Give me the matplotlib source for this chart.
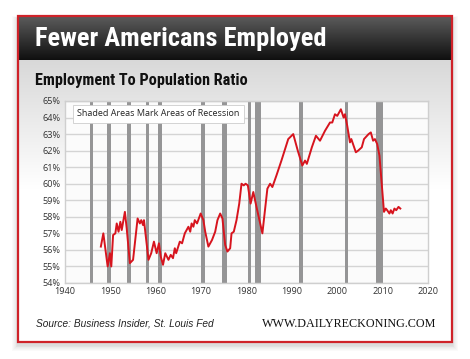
import numpy as np
import matplotlib
matplotlib.use("Agg")
import matplotlib.pyplot as plt
from matplotlib.patches import Rectangle

# employment to population ratio (%)
years = [1947.9, 1948.45, 1949.4, 1949.9, 1950.2, 1950.6, 1951.1, 1951.4, 1951.8,
         1952.2, 1952.5, 1953.2, 1953.6, 1954.3, 1955.0, 1956.0, 1956.5, 1956.8,
         1957.2, 1957.4, 1958.4, 1959.0, 1959.6, 1960.2, 1960.7, 1961.1, 1961.6,
         1962.1, 1962.8, 1963.3, 1963.8, 1964.2, 1964.5, 1965.3, 1965.8, 1966.4,
         1967.2, 1967.6, 1967.9, 1968.3, 1968.6, 1969.1, 1969.9, 1970.5, 1970.9,
         1971.6, 1972.4, 1973.1, 1973.6, 1974.2, 1974.7, 1975.3, 1975.8, 1976.4,
         1976.7, 1977.2, 1977.8, 1978.4, 1978.9, 1979.4, 1979.8, 1980.3, 1980.9,
         1981.5, 1982.2, 1983.5, 1984.6, 1985.2, 1985.7, 1986.6, 1987.7, 1989.2,
         1990.3, 1991.3, 1992.3, 1992.9, 1993.3, 1994.4, 1995.3, 1996.2, 1997.3,
         1998.4, 1998.9, 1999.5, 2000.0, 2000.8, 2001.4, 2001.7, 2002.2, 2002.8,
         2003.1, 2004.1, 2004.6, 2005.4, 2005.9, 2006.9, 2007.4, 2007.9, 2008.3,
         2008.8, 2009.3, 2009.8, 2010.3, 2010.7, 2011.0, 2011.5, 2011.8, 2012.2,
         2012.6, 2013.0, 2013.5, 2013.9]
ratio = [56.2, 57.0, 55.0, 55.8, 55.0, 56.9, 57.0, 57.6, 57.1,
         57.7, 57.2, 58.3, 57.3, 55.2, 55.4, 57.9, 57.6, 57.8,
         57.5, 57.8, 55.4, 55.8, 56.5, 55.8, 56.4, 55.6, 55.1,
         55.8, 55.4, 55.7, 55.5, 56.1, 55.8, 56.5, 56.4, 57.0,
         57.4, 57.1, 57.6, 57.4, 57.8, 57.6, 58.2, 57.8, 57.1,
         56.2, 56.6, 57.1, 57.8, 58.2, 57.9, 56.3, 55.9, 56.1,
         57.0, 57.1, 57.8, 58.8, 60.0, 59.9, 60.0, 59.9, 58.8,
         59.5, 58.6, 57.0, 59.7, 60.0, 59.8, 60.5, 61.4, 62.7,
         63.0, 62.0, 61.1, 61.4, 61.2, 62.2, 62.9, 62.6, 63.2,
         63.7, 63.7, 64.2, 64.1, 64.5, 64.0, 64.2, 63.5, 62.5,
         62.7, 61.9, 62.0, 62.2, 62.7, 63.0, 63.1, 62.6, 62.7,
         62.4, 61.7, 60.0, 58.3, 58.5, 58.4, 58.2, 58.4, 58.2,
         58.5, 58.4, 58.6, 58.5]

# recession bands as drawn in the reference (start, end)
rec_start = [1945.5, 1949.26, 1953.73, 1957.85, 1960.56, 1969.97, 1974.53,
             1980.40, 1981.87, 1991.57, 2001.71, 2008.54]
rec_end = [1946.1, 1950.14, 1954.48, 1958.58, 1961.38, 1970.85, 1975.64,
           1980.93, 1983.19, 1992.38, 2002.30, 2010.15]

x_ticks = list(range(1940, 2021, 10))
y_ticks = list(range(54, 66))

narrow = ["Roboto Condensed", "Archivo Narrow", "PT Sans Narrow",
          "Open Sans Condensed", "DejaVu Sans"]

W, H = 470, 359
fig = plt.figure(figsize=(W / 100, H / 100), dpi=100)

# background layer in pixel coordinates
bg = fig.add_axes([0, 0, 1, 1], zorder=-5)
bg.set_xlim(0, W)
bg.set_ylim(H, 0)
bg.axis("off")

# soft drop shadow round the card
for i in range(7, 0, -1):
    bg.add_patch(Rectangle((18 - i * 0.8, 16 - i * 0.4 + 3), 434 + 1.6 * i, 326 + 1.2 * i,
                           facecolor="black", alpha=0.018, lw=0))

# card body with a light vertical gradient
gy = np.linspace(0, 1, 200).reshape(-1, 1)
body = 0.85 + 0.15 * np.clip(gy * 2.2, 0, 1)
bg.imshow(np.dstack([body, body, body]), extent=(18, 452, 342, 60),
          aspect="auto", interpolation="bilinear", zorder=1)

# dark header band
hd = np.linspace(0.36, 0.06, 100).reshape(-1, 1)
bg.imshow(np.dstack([hd, hd, hd]), extent=(18, 452, 60, 16),
          aspect="auto", interpolation="bilinear", zorder=2)

bg.add_patch(Rectangle((18, 16), 434, 326, facecolor="none",
                       edgecolor="#cf2229", lw=1.6, zorder=3))

bg.text(35, 39, "Fewer Americans Employed", color="white", fontsize=19,
        fontweight="bold", family=narrow, fontstretch="condensed",
        va="center", zorder=4)
bg.text(35, 81, "Employment To Population Ratio", color="#111111", fontsize=11.7,
        fontweight="bold", family=narrow, fontstretch="condensed",
        va="center", zorder=4)
bg.text(36, 324, "Source: Business Insider, St. Louis Fed", color="#222222",
        fontsize=7.3, style="italic", family="Liberation Sans", va="center", zorder=4)
bg.text(436, 324, "WWW.DAILYRECKONING.COM", color="#111111", fontsize=8.7,
        family="Liberation Serif", ha="right", va="center", zorder=4)

# chart
ax = fig.add_axes([65 / W, 1 - 283 / H, 363 / W, 182 / H])
ax.set_facecolor("#fbfbfb")

for s, e in zip(rec_start, rec_end):
    ax.axvspan(s, e, color="#959596", lw=0, zorder=2)

ax.plot(years, ratio, color="#d7141e", lw=1.4, zorder=4)

ax.set_xlim(1940, 2020)
ax.set_ylim(54, 65)
ax.set_xticks(x_ticks)
ax.set_yticks(y_ticks)
ax.set_yticklabels([f"{v}%" for v in y_ticks])
ax.grid(axis="y", color="#d4d4d4", lw=1, zorder=1)
ax.tick_params(length=0, labelsize=6.6, colors="#333333", pad=3)
for lab in ax.get_xticklabels() + ax.get_yticklabels():
    lab.set_family("Open Sans")
for sp in ax.spines.values():
    sp.set_color("#cfcfcf")
    sp.set_linewidth(1)

ax.text(0.034, 0.93, "Shaded Areas Mark Areas of Recession", transform=ax.transAxes,
        fontsize=6.5, family="Open Sans", color="#222222", va="center", zorder=6,
        bbox=dict(boxstyle="square,pad=0.5", facecolor="white",
                  edgecolor="#cccccc", lw=0.6))

fig.savefig("out.png", dpi=100)
plt.close(fig)
